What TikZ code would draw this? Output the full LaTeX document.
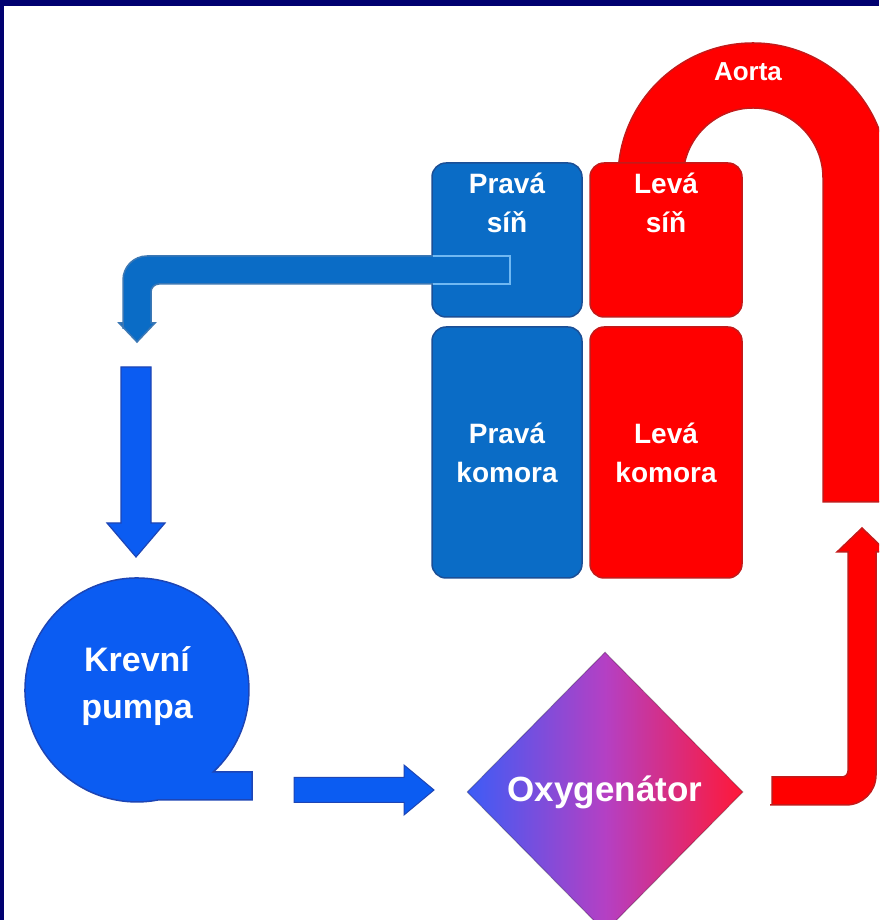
\documentclass[tikz,border=0pt]{standalone}
\usepackage{fontspec}
\setmainfont{Liberation Sans}
\usetikzlibrary{shapes.geometric,calc}
\definecolor{navy}{HTML}{000070}
\definecolor{boxblue}{HTML}{0A6CC6}
\definecolor{boxblueedge}{HTML}{1B4F96}
\definecolor{pumpblue}{HTML}{0B5CF2}
\definecolor{pumpedge}{HTML}{1D45B5}
\definecolor{heartred}{HTML}{FF0000}
\definecolor{rededge}{HTML}{C41A1A}
\definecolor{pipeedge}{HTML}{3C78B4}
\definecolor{pipelight}{HTML}{70B8F2}
\definecolor{oxyblue}{HTML}{3D5CF6}
\definecolor{oxyred}{HTML}{FF1838}
\definecolor{oxymid}{HTML}{B440C4}
\begin{document}
\begin{tikzpicture}[x=1pt,y=1pt,
  chamber/.style={rounded corners=14pt, minimum width=150pt, line width=1.5pt, inner sep=0pt},
  bluech/.style={chamber, fill=boxblue, draw=boxblueedge},
  redch/.style={chamber, fill=heartred, draw=rededge},
  lbl/.style={text=white, font=\bfseries\fontsize{28}{39}\selectfont, align=center, inner sep=0pt},
  bigl/.style={lbl, font=\bfseries\fontsize{34}{47}\selectfont},
  redpipe/.style={fill=heartred, draw=rededge, line width=1.5pt},
  bluepipe/.style={fill=boxblue, draw=pipeedge, line width=1.5pt},
  brightarrow/.style={fill=pumpblue, draw=pumpedge, line width=1.2pt},
]
\clip (0,0) rectangle (879,920);
\fill[navy] (0,0) rectangle (879,920);
\fill[white] (4,0) rectangle (879,914);

% Aorta arch
\filldraw[redpipe] (618,742) arc[start angle=180,end angle=0,radius=135]
  -- (888,418) -- (823,418) -- (823,742)
  arc[start angle=0,end angle=180,radius=70] -- cycle;
\node[lbl, font=\bfseries\fontsize{26}{30}\selectfont] (aortalbl) at (748,848) {Aorta};

% heart chambers
\node[bluech, minimum height=154pt] (ps) at (507,680) {};
\node[bluech, minimum height=251pt] (pk) at (507,467.5) {};
\node[redch, minimum width=152pt, minimum height=154pt] (ls) at (666,680) {};
\node[redch, minimum width=152pt, minimum height=251pt] (lk) at (666,467.5) {};
\node[lbl] (pst) at (507,717) {Pravá\\síň};
\node[lbl] (lst) at (666,717) {Levá\\síň};
\node[lbl] (pkt) at (pk) {Pravá\\komora};
\node[lbl] (lkt) at (lk) {Levá\\komora};

% blue pipe from right atrium
\filldraw[bluepipe] (510,664) -- (300,664) [rounded corners=24pt] -- (123,664)
  -- (123,615) [sharp corners] -- (123,597) -- (119,597) -- (137,578)
  -- (155,597) -- (151,597) -- (151,615) [rounded corners=8pt] -- (151,636)
  -- (300,636) [sharp corners] -- (510,636) -- cycle;
\draw[pipelight, line width=2.5pt] (433,664) -- (510,664) -- (510,636) -- (433,636);

% arrow down to pump
\filldraw[brightarrow] (121,553) -- (151,553) -- (151,397) -- (165,397)
  -- (136,363) -- (107,397) -- (121,397) -- cycle;

% pump
\filldraw[fill=pumpblue, draw=pumpedge, line width=1.5pt] (252,148) -- (213.2,148)
  arc[start angle=-47.1, end angle=280.9, radius=112] -- (252,120) -- cycle;
\node[bigl] (pump) at (137,234) {Krevní\\pumpa};

% arrow pump -> oxygenator
\filldraw[brightarrow, line width=1pt] (294,142.5) -- (404,142.5) -- (404,155)
  -- (434,130) -- (404,105) -- (404,117.5) -- (294,117.5) -- cycle;

% oxygenator
\node[diamond, minimum width=276pt, minimum height=280pt, inner sep=0pt,
  left color=oxyblue, right color=oxyred, middle color=oxymid,
  draw=black, draw opacity=0.25, line width=1pt] (oxy) at (605,128) {};
\node[bigl, font=\bfseries\fontsize{35}{40}\selectfont] (oxyt) at (oxy) {Oxygenátor};

% red pipe oxygenator -> aorta
\filldraw[redpipe] (772,143) -- (830,143) [rounded corners=6pt] -- (848,143)
  -- (848,300) [sharp corners] -- (848,368) -- (837,368) -- (862,392)
  -- (887,368) -- (876,368) -- (876,200) [rounded corners=30pt] -- (876,115)
  -- (800,115) [sharp corners] -- (772,115) -- cycle;
\end{tikzpicture}
\end{document}
